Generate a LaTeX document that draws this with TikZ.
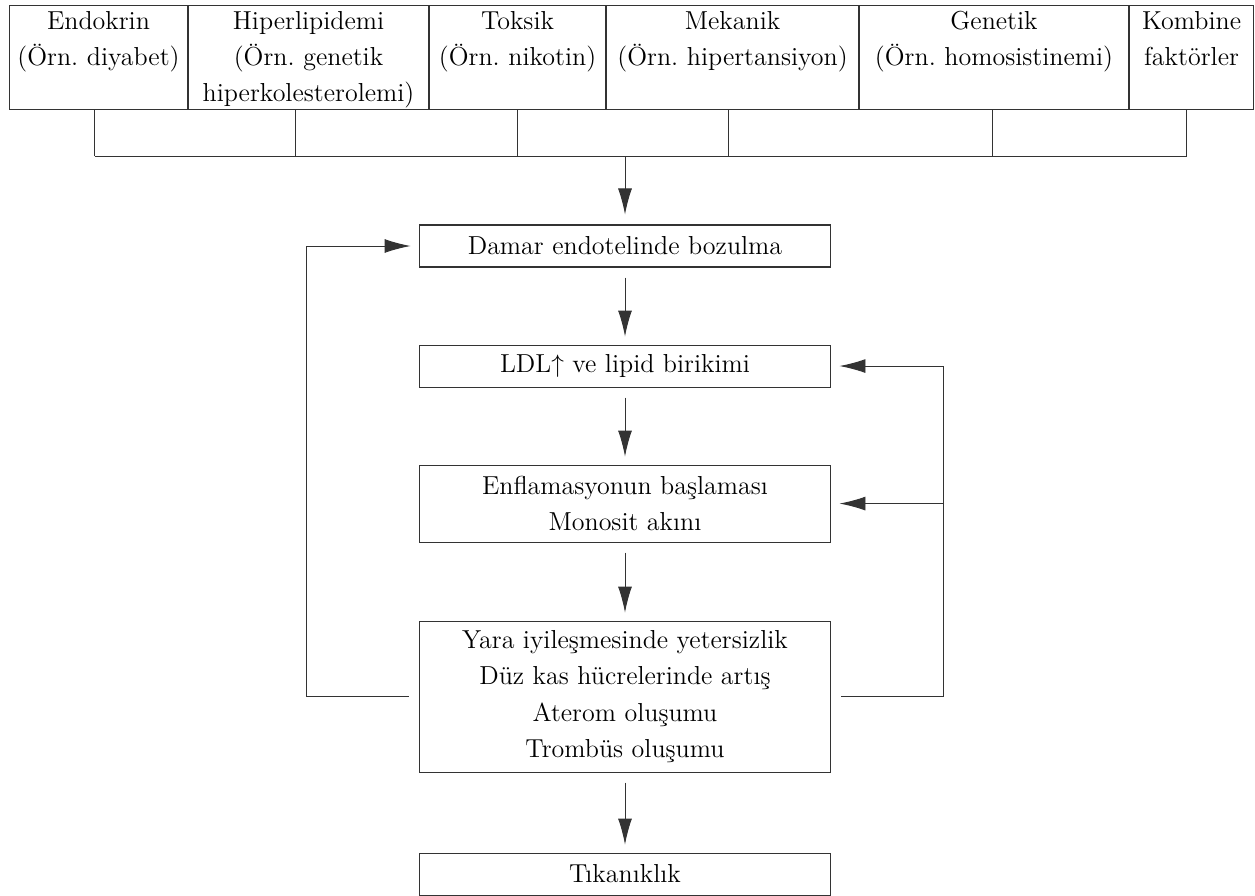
\documentclass[tikz,border=0pt]{standalone}
\usepackage{fontspec}
\usetikzlibrary{positioning,arrows.meta}
\frenchspacing

\tikzset{
  cell/.style={draw=black!80, line width=0.6pt, inner sep=0pt, align=center, text height=0.48cm, text depth=1.6cm},
  stage/.style={draw=black!80, line width=0.6pt, inner sep=0pt, align=center, minimum width=8.24cm, minimum height=0.84cm},
  link/.style={draw=black!80, line width=0.55pt},
  flow/.style={link, -{Latex[length=0.52cm,width=0.28cm]}, shorten >=0.16cm},
}

\begin{document}
\begin{tikzpicture}[x=0.02cm, y=-0.02cm, font=\fontsize{14.8}{20.5}\selectfont]
\useasboundingbox (0,0) rectangle (1255,896);

% Risk factors
\node[cell, text width=3.56cm, anchor=north west] (endo) at (9,5) {Endokrin\\(Örn. diyabet)};
\node[cell, text width=4.8cm, right=0pt of endo] (hiper) {Hiperlipidemi\\(Örn. genetik\\hiperkolesterolemi)};
\node[cell, text width=3.52cm, right=0pt of hiper] (toks) {Toksik\\(Örn. nikotin)};
\node[cell, text width=5.04cm, right=0pt of toks] (mek) {Mekanik\\(Örn. hipertansiyon)};
\node[cell, text width=5.38cm, right=0pt of mek] (gen) {Genetik\\(Örn. homosistinemi)};
\node[cell, text width=2.48cm, right=0pt of gen] (komb) {Kombine\\faktörler};

% Stages
\node[stage] (damar) at (625,246) {Damar endotelinde bozulma};
\node[stage, below=1.54cm of damar] (ldl) {LDL$\uparrow$ ve lipid birikimi};
\node[stage, minimum height=1.54cm, below=1.54cm of ldl] (enfl) {Enflamasyonun başlaması\\Monosit akını};
\node[stage, minimum height=3.02cm, below=1.56cm of enfl] (yara) {Yara iyileşmesinde yetersizlik\\Düz kas hücrelerinde artış\\Aterom oluşumu\\Trombüs oluşumu};
\node[stage, below=1.6cm of yara] (tik) {Tıkanıklık};

% Collecting line
\coordinate (bus) at (0,156);
\foreach \n/\dx in {endo/-0.08,hiper/-0.26,toks/0,mek/-0.08,gen/-0.04,komb/-0.1}
  \draw[link] ([xshift=\dx cm]\n.south) -- ([xshift=\dx cm]\n.south |- bus);
\draw[link] ([xshift=-0.08cm]endo.south |- bus) -- ([xshift=-0.1cm]komb.south |- bus);
\draw[flow, shorten >=0.2cm] (bus -| damar.north) -- (damar.north);

% Main chain
\foreach \a/\b in {damar/ldl,ldl/enfl,enfl/yara,yara/tik}
  \draw[flow, shorten <=0.2cm] (\a) -- (\b);

% Feedback loops
\coordinate[left=2.24cm of yara.west] (lb);
\draw[link, shorten <=0.2cm] (yara.west) -- (lb);
\draw[flow] (lb) |- (damar.west);
\coordinate[right=2.24cm of yara.east] (rb);
\draw[link, shorten <=0.2cm] (yara.east) -- (rb);
\draw[flow] (rb) |- (ldl.east);
\draw[flow] (rb |- enfl.east) -- (enfl.east);
\end{tikzpicture}
\end{document}
